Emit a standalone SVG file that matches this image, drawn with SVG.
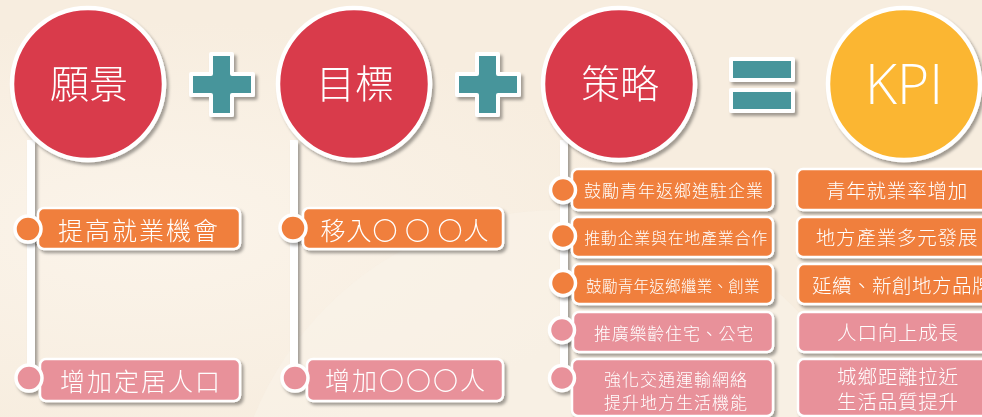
<svg xmlns="http://www.w3.org/2000/svg" width="982" height="417" viewBox="0 0 982 417">
<defs>
<filter id="sh" x="-20%" y="-20%" width="140%" height="140%">
<feDropShadow dx="2.5" dy="3" stdDeviation="1.5" flood-color="#000" flood-opacity="0.35"/>
</filter>
<radialGradient id="bg1" cx="0.15" cy="0.55" r="0.5">
<stop offset="0" stop-color="#fbf4ea"/>
<stop offset="1" stop-color="#f7eddf"/>
</radialGradient>
<style>
.big{fill:#d93a4b;stroke:#fff;stroke-width:4.5}
.kpi{fill:#fbb631;stroke:#fff;stroke-width:4.5}
.ct{font-family:"Noto Sans CJK TC","Noto Sans CJK SC",sans-serif;font-weight:300;fill:#fff;text-anchor:middle;dominant-baseline:central}
.op{fill:#46959b;stroke:#fff;stroke-width:4;stroke-linejoin:round}
.vl{stroke:#fff;stroke-width:8;fill:none}
.bo{fill:#f07f3c;stroke:#fff;stroke-width:2.5}
.bp{fill:#e8919a;stroke:#fff;stroke-width:2.5}
.dO{fill:#f07f3c;stroke:#fff;stroke-width:3.5}
.dP{fill:#e8919a;stroke:#fff;stroke-width:3.5}
.t{font-family:"Noto Sans CJK TC","Noto Sans CJK SC",sans-serif;font-weight:300;fill:#fff;dominant-baseline:central}
</style>
</defs>
<rect width="982" height="417" fill="url(#bg1)"/>
<circle cx="560" cy="540" r="330" fill="#faf3e9" opacity="0.5"/>

<g id="connectors" filter="url(#sh)">
<line class="vl" x1="31" y1="140" x2="31" y2="380"/>
<line class="vl" x1="294" y1="140" x2="294" y2="380"/>
<line class="vl" x1="564" y1="140" x2="564" y2="380"/>
</g>

<g id="vision" filter="url(#sh)">
<circle class="big" cx="88" cy="84" r="76"/>
<text class="ct" x="89" y="81" font-size="39">願景</text>
</g>
<g id="plus1" filter="url(#sh)">
<path class="op" d="M211,54 h21 v20 h21 v21 h-21 v20 h-21 v-20 h-20 v-21 h20 z"/>
</g>
<g id="goal" filter="url(#sh)">
<circle class="big" cx="354" cy="84" r="76"/>
<text class="ct" x="355" y="81" font-size="39">目標</text>
</g>
<g id="plus2" filter="url(#sh)">
<path class="op" d="M477,54 h21 v20 h21 v21 h-21 v20 h-21 v-20 h-20 v-21 h20 z"/>
</g>
<g id="strategy" filter="url(#sh)">
<circle class="big" cx="619" cy="84" r="76"/>
<text class="ct" x="620" y="81" font-size="39">策略</text>
</g>
<g id="equals" filter="url(#sh)">
<rect class="op" x="731" y="59" width="62" height="21"/>
<rect class="op" x="731" y="90" width="62" height="21"/>
</g>
<g id="kpi" filter="url(#sh)">
<circle class="kpi" cx="904" cy="84" r="76"/>
<text x="904" y="82" font-size="55" font-family="Open Sans, Liberation Sans, sans-serif" font-weight="300" fill="#fff" text-anchor="middle" dominant-baseline="central">KPI</text>
</g>

<!-- column 1 -->
<g id="v1" filter="url(#sh)">
<rect class="bo" x="38" y="208" width="202" height="41" rx="6"/>
<circle class="dO" cx="28" cy="229" r="13"/>
<text class="t" x="139" y="228.5" font-size="25" letter-spacing="2" text-anchor="middle">提高就業機會</text>
</g>
<g id="v2" filter="url(#sh)">
<rect class="bp" x="40" y="359" width="200" height="42" rx="6"/>
<circle class="dP" cx="29" cy="378" r="13"/>
<text class="t" x="141" y="380" font-size="25" letter-spacing="2" text-anchor="middle">增加定居人口</text>
</g>

<!-- column 2 -->
<g id="g1" filter="url(#sh)">
<rect class="bo" x="303" y="208" width="200" height="41" rx="6"/>
<circle class="dO" cx="293" cy="228" r="13"/>
<text class="t" x="405" y="228.5" font-size="25" letter-spacing="1" text-anchor="middle">移入〇 〇 〇人</text>
</g>
<g id="g2" filter="url(#sh)">
<rect class="bp" x="307" y="359" width="196" height="42" rx="6"/>
<circle class="dP" cx="295" cy="378" r="13"/>
<text class="t" x="406" y="379" font-size="25" letter-spacing="2" text-anchor="middle">增加〇〇〇人</text>
</g>

<!-- column 3 -->
<g id="s1" filter="url(#sh)">
<rect class="bo" x="572" y="169" width="201" height="41" rx="6"/>
<circle class="dO" cx="563" cy="190" r="12.5"/>
<text class="t" x="674" y="189.5" font-size="17" letter-spacing="1" text-anchor="middle">鼓勵青年返鄉進駐企業</text>
</g>
<g id="s2" filter="url(#sh)">
<rect class="bo" x="572" y="217" width="201" height="40" rx="6"/>
<circle class="dO" cx="563" cy="236" r="12.5"/>
<text class="t" x="676" y="236.5" font-size="16" letter-spacing="0.7" text-anchor="middle">推動企業與在地產業合作</text>
</g>
<g id="s3" filter="url(#sh)">
<rect class="bo" x="573" y="264" width="200" height="40" rx="6"/>
<circle class="dO" cx="563" cy="283" r="12.5"/>
<text class="t" x="673" y="285" font-size="15.5" letter-spacing="0.3" text-anchor="middle">鼓勵青年返鄉繼業、創業</text>
</g>
<g id="s4" filter="url(#sh)">
<rect class="bp" x="573" y="312" width="200" height="40" rx="6"/>
<circle class="dP" cx="562" cy="330" r="12.5"/>
<text class="t" x="674" y="332" font-size="17" letter-spacing="0.8" text-anchor="middle">推廣樂齡住宅、公宅</text>
</g>
<g id="s5" filter="url(#sh)">
<rect class="bp" x="572" y="359" width="201" height="57" rx="6"/>
<circle class="dP" cx="562" cy="378" r="12.5"/>
<text class="t" x="676" y="378" font-size="17" letter-spacing="1" text-anchor="middle">強化交通運輸網絡</text>
<text class="t" x="676" y="401" font-size="17" letter-spacing="1" text-anchor="middle">提升地方生活機能</text>
</g>

<!-- column 4 -->
<g id="k1" filter="url(#sh)">
<rect class="bo" x="797" y="169" width="200" height="41" rx="6"/>
<text class="t" x="897" y="189.5" font-size="19.5" letter-spacing="0.8" text-anchor="middle">青年就業率增加</text>
</g>
<g id="k2" filter="url(#sh)">
<rect class="bo" x="797" y="217" width="200" height="40" rx="6"/>
<text class="t" x="897" y="236.5" font-size="19.5" letter-spacing="0.8" text-anchor="middle">地方產業多元發展</text>
</g>
<g id="k3" filter="url(#sh)">
<rect class="bo" x="798" y="264" width="200" height="40" rx="6"/>
<text class="t" x="812" y="284" font-size="19.5" letter-spacing="0.5">延續、新創地方品牌</text>
</g>
<g id="k4" filter="url(#sh)">
<rect class="bp" x="798" y="312" width="200" height="40" rx="6"/>
<text class="t" x="898" y="331.5" font-size="19.5" letter-spacing="0.8" text-anchor="middle">人口向上成長</text>
</g>
<g id="k5" filter="url(#sh)">
<rect class="bp" x="798" y="359" width="200" height="57" rx="6"/>
<text class="t" x="898" y="375" font-size="19.5" letter-spacing="0.8" text-anchor="middle">城鄉距離拉近</text>
<text class="t" x="898" y="400" font-size="19.5" letter-spacing="0.8" text-anchor="middle">生活品質提升</text>
</g>
</svg>
